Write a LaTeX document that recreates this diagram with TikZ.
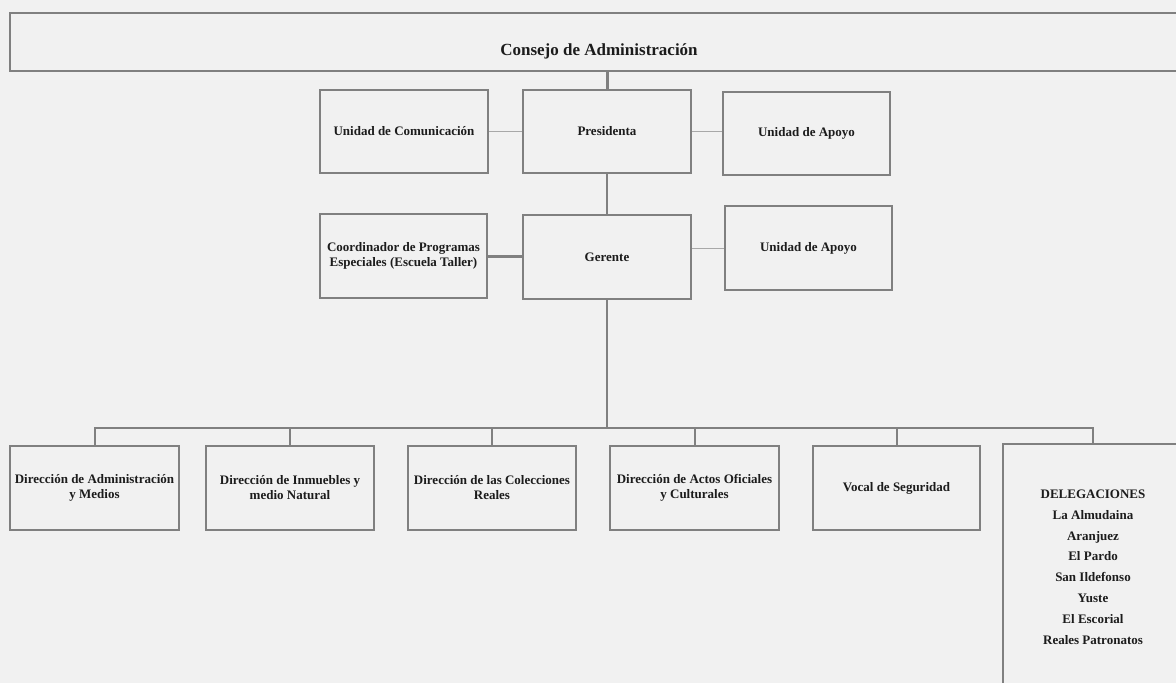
\documentclass[tikz,border=0pt]{standalone}
\usepackage{fontspec}
\setmainfont{Liberation Serif}
\definecolor{bgc}{HTML}{F1F1F1}
\definecolor{linec}{HTML}{808080}
\definecolor{thinc}{HTML}{A8A8A8}
\definecolor{txtc}{HTML}{1C1C1C}
\begin{document}
\begin{tikzpicture}[x=1pt,y=-1pt,
  orgbox/.style={draw=linec, line width=2pt, align=center, inner sep=2pt,
    text=txtc, font=\bfseries\fontsize{13}{15}\selectfont},
  conn/.style={draw=linec, line width=2pt},
  thinconn/.style={draw=thinc, line width=1pt},
  thickconn/.style={draw=linec, line width=3pt}]
\fill[bgc] (0,0) rectangle (1176,683);
\useasboundingbox (0,0) rectangle (1176,683);

\node[orgbox, minimum width=1178pt, minimum height=58pt, text height=26pt, text depth=0pt,
  font=\bfseries\fontsize{17}{20}\selectfont] (consejo) at (599,42) {Consejo de Administración};

\node[orgbox, minimum width=168pt, minimum height=83pt] (unicom) at (404,131.5) {Unidad de Comunicación};
\node[orgbox, minimum width=168pt, minimum height=83pt] (pres) at (607,131.5) {Presidenta};
\node[orgbox, minimum width=167pt, minimum height=83pt] (apoyo1) at (806.5,133.5) {Unidad de Apoyo};

\node[orgbox, minimum width=167pt, minimum height=84pt] (coord) at (403.5,256) {Coordinador de Programas\\Especiales (Escuela Taller)};
\node[orgbox, minimum width=168pt, minimum height=84pt] (ger) at (607,257) {Gerente};
\node[orgbox, minimum width=167pt, minimum height=84pt] (apoyo2) at (808.5,248) {Unidad de Apoyo};

\node[orgbox, minimum width=169pt, minimum height=84pt] (d1) at (94.5,488) {Dirección de Administración\\y Medios};
\node[orgbox, minimum width=168pt, minimum height=84pt] (d2) at (290,488) {Dirección de Inmuebles y\\medio Natural};
\node[orgbox, minimum width=168pt, minimum height=84pt] (d3) at (492,488) {Dirección de las Colecciones\\Reales};
\node[orgbox, minimum width=169pt, minimum height=84pt] (d4) at (694.5,488) {Dirección de Actos Oficiales\\y Culturales};
\node[orgbox, minimum width=167pt, minimum height=84pt] (d5) at (896.5,488) {Vocal de Seguridad};
\node[orgbox, minimum width=180pt, minimum height=246pt,
  font=\bfseries\fontsize{13}{20.8}\selectfont] (deleg) at (1093,567)
  {DELEGACIONES\\La Almudaina\\Aranjuez\\El Pardo\\San Ildefonso\\Yuste\\El Escorial\\Reales Patronatos};

\coordinate (bus) at (607,428);

\draw[thickconn] (pres.north |- consejo.south) -- (pres.north);
\draw[thinconn] (unicom.east) -- (pres.west |- unicom.east);
\draw[thinconn] (pres.east) -- (apoyo1.west |- pres.east);
\draw[conn] (pres.south) -- (ger.north);
\draw[thickconn] (coord.east) -- (ger.west |- coord.east);
\draw[thinconn] (ger.east |- apoyo2.west) -- (apoyo2.west);
\draw[conn] (ger.south) -- (bus);
\draw[conn] (d1.north) -- (d1.north |- bus) -- (deleg.north |- bus) -- (deleg.north);
\draw[conn] (d2.north |- bus) -- (d2.north);
\draw[conn] (d3.north |- bus) -- (d3.north);
\draw[conn] (d4.north |- bus) -- (d4.north);
\draw[conn] (d5.north |- bus) -- (d5.north);
\end{tikzpicture}
\end{document}
